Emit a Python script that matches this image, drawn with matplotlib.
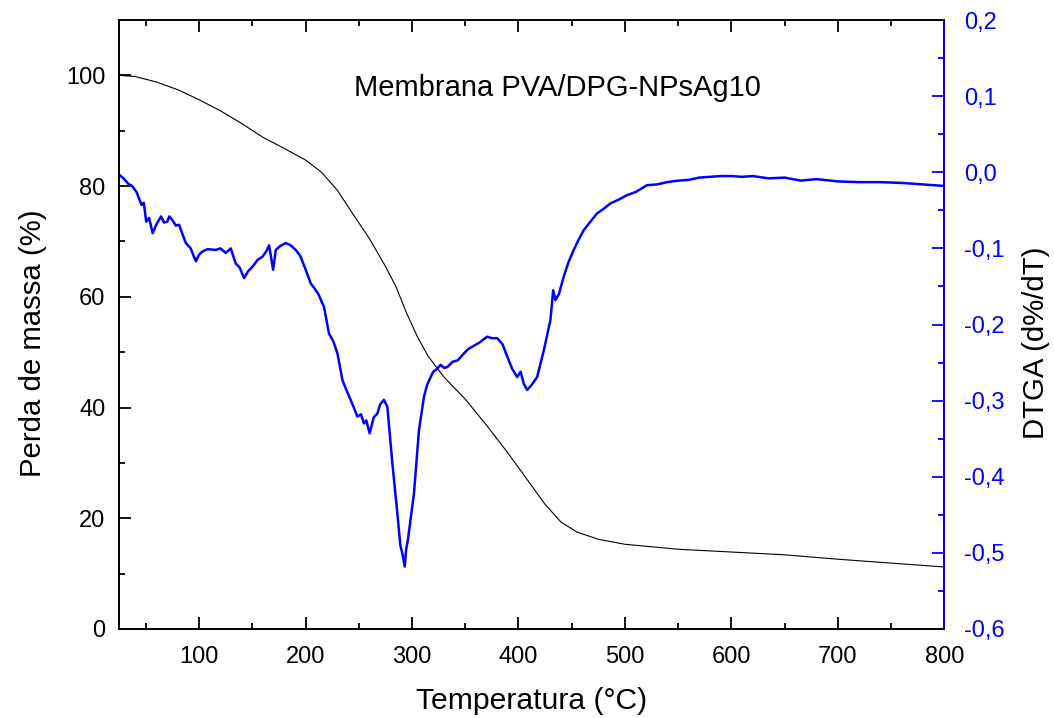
import numpy as np
import matplotlib.pyplot as plt
from matplotlib.ticker import MultipleLocator, FuncFormatter

plt.rcParams['font.family'] = ['Liberation Sans', 'DejaVu Sans']

# TGA curve: mass loss (%) vs temperature (C)
tga_temp = [25, 40, 60, 80, 100, 120, 140, 160, 180, 200, 215, 230, 245, 260, 275,
            285, 295, 305, 315, 330, 350, 370, 390, 410, 425, 440, 455, 475, 500,
            550, 600, 650, 700, 750, 800]
tga_mass = [100, 99.8, 98.8, 97.4, 95.6, 93.6, 91.3, 88.8, 86.8, 84.7, 82.5, 79.2,
            74.8, 70.5, 65.5, 61.8, 57.0, 52.8, 49.3, 45.5, 41.5, 36.8, 31.8, 26.5,
            22.5, 19.3, 17.5, 16.2, 15.3, 14.4, 13.9, 13.4, 12.6, 11.9, 11.2]

# DTGA curve (d%/dT): (temperature, value) pairs
dtga_points = [
    (25.5, -0.004), (29, -0.008), (33.3, -0.015), (37, -0.018), (41.2, -0.026),
    (45.9, -0.043), (48, -0.040), (50.3, -0.065), (53, -0.060), (56.3, -0.080),
    (60, -0.068), (64.2, -0.058), (67, -0.066), (70, -0.065), (72, -0.058),
    (75, -0.063), (78, -0.070), (81.2, -0.069), (84, -0.080), (87.5, -0.093),
    (92, -0.100), (96.9, -0.117), (100, -0.108), (103.2, -0.104), (108, -0.101),
    (115.7, -0.102), (120, -0.100), (125, -0.106), (129.7, -0.100), (134.4, -0.120),
    (138, -0.125), (142.2, -0.139), (146, -0.130), (150.1, -0.124), (155, -0.115),
    (159.5, -0.111), (163, -0.104), (165.7, -0.096), (169.5, -0.128), (172, -0.102),
    (176, -0.097), (181.4, -0.093), (186, -0.096), (190.7, -0.102), (195, -0.110),
    (200.1, -0.128), (204.8, -0.146), (208.6, -0.153), (212, -0.160), (217.3, -0.177),
    (222, -0.212), (226, -0.222), (229.9, -0.238), (234.6, -0.273), (238, -0.285),
    (242.3, -0.299), (245, -0.308), (248.6, -0.321), (252, -0.318), (254.8, -0.330),
    (257, -0.326), (260.2, -0.343), (264, -0.322), (267.4, -0.317), (270, -0.305),
    (273.6, -0.299), (276.8, -0.308), (281.5, -0.382), (286.2, -0.448), (289, -0.490),
    (290.9, -0.501), (293.1, -0.518), (294.5, -0.495), (296.1, -0.483), (301.8, -0.422),
    (306.5, -0.339), (311.2, -0.295), (314, -0.280), (317.5, -0.269), (320, -0.262),
    (323.7, -0.258), (326.8, -0.253), (330, -0.257), (333.1, -0.256), (338, -0.249),
    (343, -0.247), (348.7, -0.238), (353, -0.232), (358, -0.228), (363, -0.224),
    (370.6, -0.216), (375, -0.218), (380, -0.218), (385, -0.226), (389.4, -0.242),
    (394, -0.258), (398.8, -0.269), (402, -0.262), (405, -0.278), (408.2, -0.286),
    (412, -0.280), (417.5, -0.269), (423.8, -0.234), (430, -0.194), (432.6, -0.155),
    (434.7, -0.168), (438, -0.160), (442.5, -0.137), (447, -0.118), (451.9, -0.102),
    (456, -0.090), (461.3, -0.076), (467, -0.066), (473.8, -0.054), (480, -0.048),
    (486.3, -0.041), (494, -0.036), (502, -0.030), (510, -0.026), (520.7, -0.017),
    (530, -0.016), (539.5, -0.013), (550, -0.011), (560, -0.010), (570, -0.007),
    (580, -0.006), (590, -0.005), (600, -0.005), (610, -0.006), (620, -0.005),
    (635, -0.008), (650, -0.007), (665, -0.011), (680, -0.009), (700, -0.012),
    (720, -0.013), (740, -0.013), (760, -0.014), (780, -0.016), (800, -0.018),
]
dtga_temp = [p[0] for p in dtga_points]
dtga_val = [p[1] for p in dtga_points]

fig = plt.figure(figsize=(10.54, 7.18), dpi=100)
ax = fig.add_axes([0.1132, 0.124, 0.7827, 0.8481])
ax2 = ax.twinx()

ax.plot(tga_temp, tga_mass, color='black', lw=0.8)
ax2.plot(dtga_temp, dtga_val, color=(0, 0, 1), lw=1.8)

ax.set_xlim(25, 800)
ax.set_ylim(0, 110)
ax2.set_ylim(-0.6, 0.2)

ax.xaxis.set_major_locator(MultipleLocator(100))
ax.xaxis.set_minor_locator(MultipleLocator(50))
ax.yaxis.set_major_locator(MultipleLocator(20))
ax.yaxis.set_minor_locator(MultipleLocator(10))
ax2.yaxis.set_major_locator(MultipleLocator(0.1))
ax2.yaxis.set_minor_locator(MultipleLocator(0.05))
ax2.yaxis.set_major_formatter(FuncFormatter(lambda v, p: f"{v:.1f}".replace('.', ',').replace('-0,0', '0,0')))

for a in (ax, ax2):
    for s in a.spines.values():
        s.set_linewidth(1.3)
ax.tick_params(axis='both', which='major', direction='in', length=8.5, width=1.3,
               labelsize=17, top=True, right=False, pad=10)
ax.tick_params(axis='both', which='minor', direction='in', length=4.5, width=1.3,
               top=True, right=False)
ax.tick_params(axis='x', pad=12)
ax2.tick_params(axis='y', which='major', direction='in', length=8.5, width=1.3,
                labelsize=17, colors=(0, 0, 1), pad=14)
ax2.tick_params(axis='y', which='minor', direction='in', length=4.5, width=1.3,
                colors=(0, 0, 1))
ax2.spines['right'].set_color((0, 0, 1))

ax.set_xlabel('Temperatura (°C)', fontsize=21.7, labelpad=14)
ax.set_ylabel('Perda de massa (%)', fontsize=21.2, labelpad=14)
ax2.set_ylabel('DTGA (d%/dT)', fontsize=21.2, labelpad=13)
ax.yaxis.label.set_y(0.47)
ax2.yaxis.label.set_y(0.47)

ax.text(437, 97.8, 'Membrana PVA/DPG-NPsAg10', fontsize=21, ha='center', va='center')

fig.savefig('out.png', dpi=100)
